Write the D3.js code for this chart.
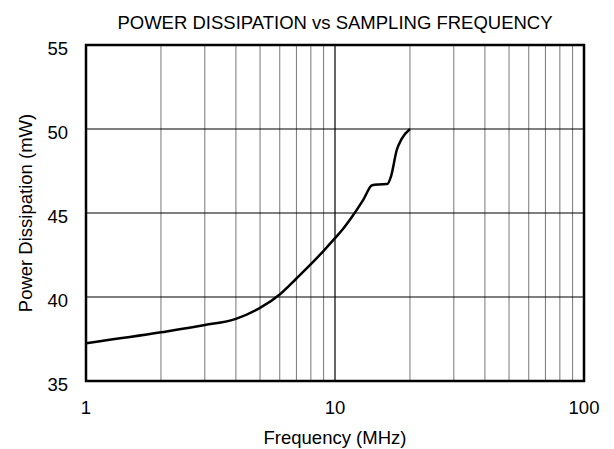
<!DOCTYPE html>
<html>
<head>
<meta charset="utf-8">
<script src="https://cdn.jsdelivr.net/npm/d3@7"></script>
<style>
  body { margin: 0; background: #fff; }
  text { font-family: "Liberation Sans", Arial, sans-serif; fill: #000; }
</style>
</head>
<body>
<div id="chart"></div>
<script>
// curve values
var freqMHz = [1, 2, 3, 4, 5, 6, 7, 8, 9, 10, 10.7, 11.8, 13, 14.1, 15, 16.2, 16.8, 17.7, 18.5, 20];
var powerMW = [37.25, 37.9, 38.33, 38.7, 39.35, 40.15, 41.1, 41.95, 42.75, 43.5, 44.0, 44.85, 45.8, 46.65, 46.7, 46.72, 47.2, 48.75, 49.4, 50];
var yTicks = [35, 40, 45, 50, 55];
var xTicks = [1, 10, 100];

var svgWidth = 614;
var svgHeight = 449;
var margin = { top: 45, right: 30, bottom: 68, left: 86 };
var width = svgWidth - margin.left - margin.right;
var height = svgHeight - margin.top - margin.bottom;

var svg = d3.select("#chart")
    .append("svg")
    .attr("width", svgWidth)
    .attr("height", svgHeight);

var chartGroup = svg.append("g")
    .attr("transform", `translate(${margin.left},${margin.top})`);

var xScale = d3.scaleLog().domain([1, 100]).range([0, width]);
var yScale = d3.scaleLinear().domain([35, 55]).range([height, 0]);

// minor vertical grid (grey), decades black
var minor = [];
[1, 10].forEach(function(dec) {
    for (var k = 2; k <= 9; k++) minor.push(dec * k);
});
chartGroup.selectAll(".vminor")
    .data(minor)
    .enter().append("line")
    .attr("x1", d => xScale(d)).attr("x2", d => xScale(d))
    .attr("y1", 0).attr("y2", height)
    .attr("stroke", "#777").attr("stroke-width", 1);

chartGroup.append("line")
    .attr("x1", xScale(10)).attr("x2", xScale(10))
    .attr("y1", 0).attr("y2", height)
    .attr("stroke", "#000").attr("stroke-width", 1.2);

chartGroup.selectAll(".hgrid")
    .data(yTicks.slice(1, -1))
    .enter().append("line")
    .attr("x1", 0).attr("x2", width)
    .attr("y1", d => yScale(d)).attr("y2", d => yScale(d))
    .attr("stroke", "#000").attr("stroke-width", 1.2);

// data line
var line = d3.line()
    .x((d, i) => xScale(freqMHz[i]))
    .y(d => yScale(d))
    .curve(d3.curveMonotoneX);

chartGroup.append("path")
    .datum(powerMW)
    .attr("d", line)
    .attr("fill", "none")
    .attr("stroke", "#000")
    .attr("stroke-width", 2.5);

// frame
chartGroup.append("rect")
    .attr("width", width).attr("height", height)
    .attr("fill", "none")
    .attr("stroke", "#000")
    .attr("stroke-width", 2.5);

// tick labels
chartGroup.selectAll(".ylab")
    .data(yTicks)
    .enter().append("text")
    .attr("x", -18)
    .attr("y", d => yScale(d) + 4)
    .attr("dy", "0.35em")
    .attr("text-anchor", "end")
    .style("font-size", "18.5px")
    .text(d => d);

chartGroup.selectAll(".xlab")
    .data(xTicks)
    .enter().append("text")
    .attr("x", d => xScale(d))
    .attr("y", 414 - margin.top)
    .attr("text-anchor", "middle")
    .style("font-size", "18.5px")
    .text(d => d);

// titles
svg.append("text")
    .attr("x", margin.left + width / 2)
    .attr("y", 29)
    .attr("text-anchor", "middle")
    .style("font-size", "18.5px")
    .text("POWER DISSIPATION vs SAMPLING FREQUENCY");

svg.append("text")
    .attr("x", margin.left + width / 2)
    .attr("y", 444)
    .attr("text-anchor", "middle")
    .style("font-size", "18.5px")
    .text("Frequency (MHz)");

svg.append("text")
    .attr("transform", "rotate(-90)")
    .attr("x", -(margin.top + height / 2))
    .attr("y", 32)
    .attr("text-anchor", "middle")
    .style("font-size", "18.5px")
    .text("Power Dissipation (mW)");
</script>
</body>
</html>
